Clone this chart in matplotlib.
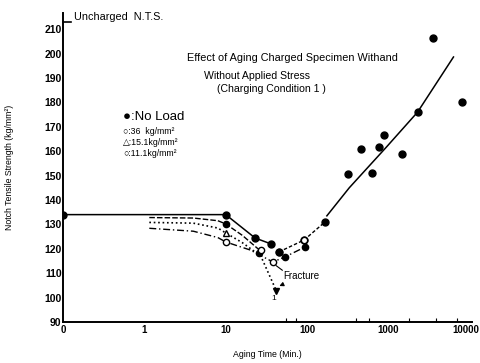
import matplotlib
matplotlib.use("Agg")
import matplotlib.pyplot as plt
import matplotlib.transforms as mtrans

plt.rcParams['font.family'] = ['Liberation Sans', 'DejaVu Sans']

# ---- data ----
x_ticks = [0.1, 1, 10, 100, 1000, 10000]
x_ticklabels = ["0", "1", "10", "100", "1000", "10000"]
x_minor = [55, 73, 400, 580, 1800, 3800, 7000]
y_ticks = [90, 100, 110, 120, 130, 140, 150, 160, 170, 180, 190, 200, 210]

# No load: solid decreasing branch
nl_t = [0.1, 10, 23, 36]
nl_v = [134, 134, 124.4, 122]
# No load: recovery (dashed)
nlr_t = [45, 92, 166]
nlr_v = [118.7, 123.6, 131]
# No load scatter after long aging
nls_t = [320, 464, 620, 776, 875, 1480, 2280, 3500, 8000]
nls_v = [150.7, 160.9, 151, 161.7, 166.6, 158.9, 176, 206.4, 180]
# fitted curve (solid)
fit_t = [175, 330, 945, 2280, 6300]
fit_v = [133.5, 145, 161.7, 176, 198.6]

# 36 kg/mm2 (dashed)
s36_t = [1.15, 4, 8, 10, 16, 27]
s36_v = [132.8, 132.6, 131.5, 130.2, 125.5, 119.0]
# 15.1 kg/mm2 (dotted) -> fracture
s15_t = [1.15, 4, 8, 10, 16, 27, 42]
s15_v = [130.8, 130.5, 128.5, 126.5, 122.5, 117.0, 102.7]
# 11.1 kg/mm2 (dash-dot)
s11_t = [1.15, 4, 8, 10, 20, 38, 53, 94]
s11_v = [128.4, 127.2, 124.6, 122.8, 119.5, 114.6, 116.6, 120.7]

open_t = [10, 27, 38, 92]
open_v = [122.8, 119.5, 114.6, 123.6]
tri_t = [10]
tri_v = [126.5]
filled_small_t = [10, 26, 45, 53, 94]
filled_small_v = [130.2, 118.2, 118.7, 116.6, 120.7]
fract_t = [42]
fract_v = [102.7]

fig = plt.figure(figsize=(4.81, 3.63), dpi=100)
ax = fig.add_axes([0.131, 0.113, 0.85, 0.851])
ax.set_xscale('log')
ax.set_xlim(0.1, 10600)
ax.set_ylim(90, 216.6)

k = 'black'
ax.plot(nl_t, nl_v, '-', color=k, lw=1.1)
ax.plot(nlr_t, nlr_v, '--', color=k, lw=1.0, dashes=(2.5, 1.5))
ax.plot(fit_t, fit_v, '-', color=k, lw=1.1)
ax.plot(s36_t, s36_v, '--', color=k, lw=1.0, dashes=(4, 1.5))
ax.plot(s15_t, s15_v, ':', color=k, lw=1.2)
ax.plot(s11_t, s11_v, '-.', color=k, lw=1.0, dashes=(5, 2, 1, 2))
ax.plot(nl_t, nl_v, 'o', color=k, ms=5, ls='none')
ax.plot(nlr_t, nlr_v, 'o', color=k, ms=5, ls='none')
ax.plot(nls_t, nls_v, 'o', color=k, ms=5, ls='none', clip_on=False)
ax.plot(filled_small_t, filled_small_v, 'o', color=k, ms=4.5, ls='none')
ax.plot(open_t, open_v, 'o', mfc='white', mec=k, mew=1.0, ms=4.5, ls='none')
ax.plot(tri_t, tri_v, '^', mfc='white', mec=k, mew=1.0, ms=4.5, ls='none')
ax.plot(fract_t, fract_v, 'v', color=k, ms=4.5, ls='none')

for s in ['top', 'right']:
    ax.spines[s].set_visible(False)
for s in ['left', 'bottom']:
    ax.spines[s].set_linewidth(1.4)

ax.set_xticks(x_ticks)
ax.set_xticklabels(x_ticklabels)
ax.set_xticks(x_minor, minor=True)
ax.set_xticklabels([], minor=True)
ax.set_yticks(y_ticks)
ax.tick_params(axis='both', direction='in', length=0, labelsize=7.5, pad=1)
ax.tick_params(axis='x', which='major', labelsize=7, pad=2)
ax.tick_params(axis='x', which='minor', direction='in', length=3, width=0.8)
for lbl in ax.get_xticklabels() + ax.get_yticklabels():
    lbl.set_fontweight('bold')
last = ax.get_xticklabels()[-1]
last.set_transform(last.get_transform() +
                   mtrans.ScaledTranslation(-4 / 100, 0, fig.dpi_scale_trans))

ax.set_xlabel("Aging Time (Min.)", fontsize=6.3, labelpad=11)
ax.set_ylabel("Notch Tensile Strength (kg/mm²)", fontsize=6.3, labelpad=22)

# uncharged NTS mark
ax.plot([0.1, 0.125], [213, 213], color=k, lw=1.2, clip_on=False)
ax.text(0.135, 214.8, "Uncharged  N.T.S.", fontsize=7.8, va='center', ha='left')

ax.text(0.562, 0.854, "Effect of Aging Charged Specimen Withand", transform=ax.transAxes,
        fontsize=7.8, ha='center', va='center')
ax.text(0.474, 0.795, "Without Applied Stress", transform=ax.transAxes,
        fontsize=7.6, ha='center', va='center')
ax.text(0.509, 0.755, "(Charging Condition 1 )", transform=ax.transAxes,
        fontsize=7.6, ha='center', va='center')

ax.text(0.147, 0.663, "●:No Load", transform=ax.transAxes, fontsize=9.5, va='center')
ax.text(0.147, 0.618, "○:36  kg/mm²", transform=ax.transAxes, fontsize=6.3, va='center')
ax.text(0.147, 0.580, "△:15.1kg/mm²", transform=ax.transAxes, fontsize=6.3, va='center')
ax.text(0.147, 0.547, "○:11.1kg/mm²", transform=ax.transAxes, fontsize=6.3, va='center')

ax.annotate("Fracture", xy=(44, 104.5), xytext=(51, 108.8), fontsize=7, ha='left',
            va='center', arrowprops=dict(arrowstyle='-|>', color=k, lw=0.8,
                                         mutation_scale=6, shrinkA=1, shrinkB=1))
ax.annotate("", xy=(39, 113.8), xytext=(53, 110.5),
            arrowprops=dict(arrowstyle='-', color=k, lw=0.8))
ax.text(39, 99.5, "1", fontsize=6, ha='center', va='center')

fig.savefig("out.png", dpi=100)
